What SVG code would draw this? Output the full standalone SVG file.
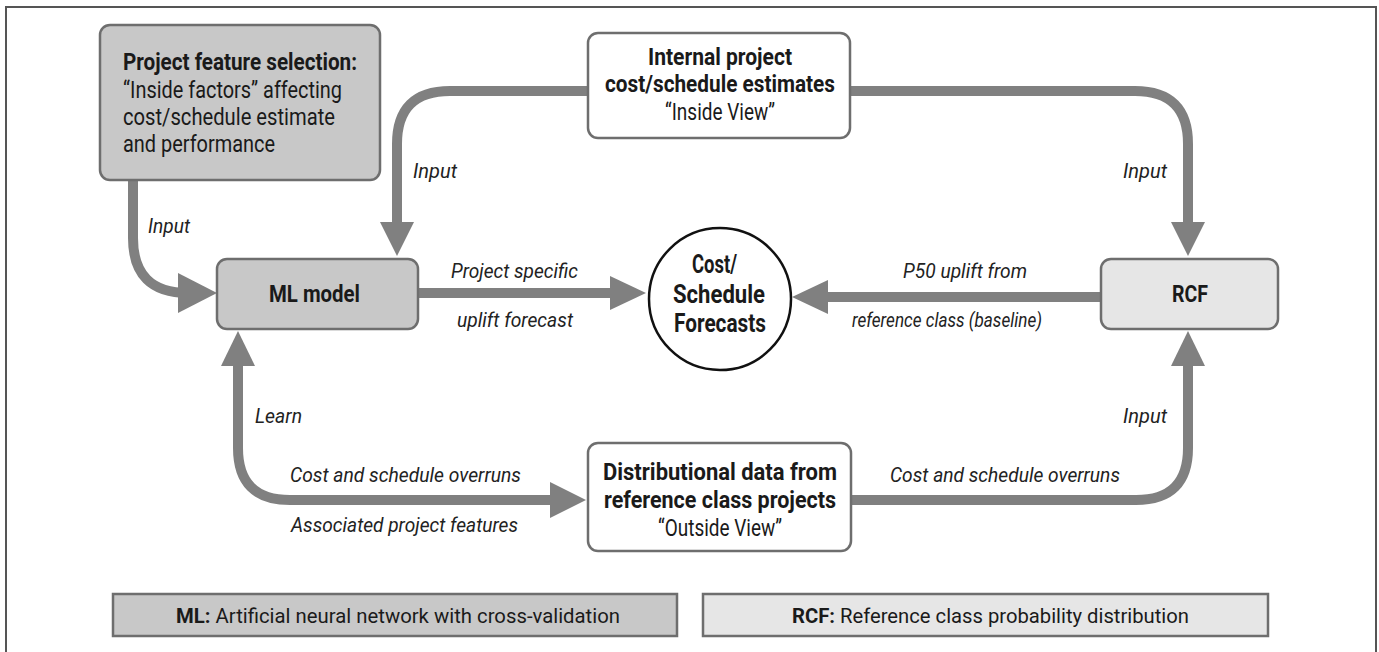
<svg xmlns="http://www.w3.org/2000/svg" width="1379" height="652" viewBox="0 0 1379 652">
<defs>
<style>
text{font-family:"Roboto","Liberation Sans",sans-serif;fill:#1a1a1a}
.b{font-weight:bold}
.lbl{font-style:italic;font-size:21px;fill:#222}
.nt{font-size:24px}
.c{text-anchor:middle}
.e{text-anchor:end}
.box{stroke:#6e6e6e;stroke-width:2.5}
.dark{fill:#c8c8c8}
.light{fill:#e6e6e6}
.white{fill:#ffffff}
.ln{fill:none;stroke:#808080;stroke-width:10}
.ah{fill:#808080}
</style>
</defs>
<rect x="0" y="0" width="1379" height="652" fill="#ffffff"/>
<rect x="6" y="7" width="1370" height="700" fill="none" stroke="#555" stroke-width="2"/>

<g id="connectors">
  <path class="ln" d="M133,181 V238 Q133,293 188,293 H182"/>
  <polygon class="ah" points="178,273 217,293 178,313"/>
  <path class="ln" d="M589,91 H450 Q397,91 397,144 V224"/>
  <polygon class="ah" points="380,222 414,222 397,256"/>
  <path class="ln" d="M850,91 H1135 Q1188,91 1188,144 V224"/>
  <polygon class="ah" points="1171,222 1205,222 1188,256"/>
  <path class="ln" d="M418,293 H612"/>
  <polygon class="ah" points="610,276 646,293 610,310"/>
  <path class="ln" d="M1101,297 H826"/>
  <polygon class="ah" points="828,280 792,297 828,314"/>
  <path class="ln" d="M552,500 H290 Q238,500 238,448 V364"/>
  <polygon class="ah" points="550,482 586,500 550,518"/>
  <polygon class="ah" points="221,366 255,366 238,331"/>
  <path class="ln" d="M851,500 H1136 Q1188,500 1188,448 V366"/>
  <polygon class="ah" points="1171,366 1205,366 1188,331"/>
</g>

<g id="labels">
  <text class="lbl" x="148" y="233" textLength="42" lengthAdjust="spacingAndGlyphs">Input</text>
  <text class="lbl" x="413" y="178" textLength="44" lengthAdjust="spacingAndGlyphs">Input</text>
  <text class="lbl" x="1123" y="178" textLength="44" lengthAdjust="spacingAndGlyphs">Input</text>
  <text class="lbl" x="1123" y="423" textLength="44" lengthAdjust="spacingAndGlyphs">Input</text>
  <text class="lbl" x="451" y="278" textLength="127" lengthAdjust="spacingAndGlyphs">Project specific</text>
  <text class="lbl" x="457" y="327" textLength="116" lengthAdjust="spacingAndGlyphs">uplift forecast</text>
  <text class="lbl" x="903" y="278" textLength="124" lengthAdjust="spacingAndGlyphs">P50 uplift from</text>
  <text class="lbl" x="852" y="327" textLength="190" lengthAdjust="spacingAndGlyphs">reference class (baseline)</text>
  <text class="lbl" x="255" y="423" textLength="47" lengthAdjust="spacingAndGlyphs">Learn</text>
  <text class="lbl" x="290" y="482" textLength="231" lengthAdjust="spacingAndGlyphs">Cost and schedule overruns</text>
  <text class="lbl" x="291" y="532" textLength="227" lengthAdjust="spacingAndGlyphs">Associated project features</text>
  <text class="lbl" x="890" y="482" textLength="230" lengthAdjust="spacingAndGlyphs">Cost and schedule overruns</text>
</g>

<g id="node-pfs">
  <rect class="box dark" x="100" y="25" width="280" height="155" rx="10"/>
  <text class="nt b" x="123" y="70" textLength="234" lengthAdjust="spacingAndGlyphs">Project feature selection:</text>
  <text class="nt" x="123" y="98" textLength="219" lengthAdjust="spacingAndGlyphs">“Inside factors” affecting</text>
  <text class="nt" x="123" y="125" textLength="212" lengthAdjust="spacingAndGlyphs">cost/schedule estimate</text>
  <text class="nt" x="123" y="152" textLength="152" lengthAdjust="spacingAndGlyphs">and performance</text>
</g>

<g id="node-internal">
  <rect class="box white" x="588" y="33" width="262" height="105" rx="10"/>
  <text class="nt b" x="648" y="65" textLength="144" lengthAdjust="spacingAndGlyphs">Internal project</text>
  <text class="nt b" x="605" y="92" textLength="230" lengthAdjust="spacingAndGlyphs">cost/schedule estimates</text>
  <text class="nt" x="665" y="120" textLength="110" lengthAdjust="spacingAndGlyphs">“Inside View”</text>
</g>

<g id="node-ml">
  <rect class="box dark" x="217" y="259" width="201" height="70" rx="10"/>
  <text class="nt b" x="269" y="302" textLength="91" lengthAdjust="spacingAndGlyphs">ML model</text>
</g>

<g id="node-forecast">
  <circle cx="720" cy="299" r="71" fill="#ffffff" stroke="#111" stroke-width="2.5"/>
  <text class="b" style="font-size:25px" x="692" y="273" textLength="45" lengthAdjust="spacingAndGlyphs">Cost/</text>
  <text class="b" style="font-size:25px" x="673" y="303" textLength="92" lengthAdjust="spacingAndGlyphs">Schedule</text>
  <text class="b" style="font-size:25px" x="674" y="332" textLength="92" lengthAdjust="spacingAndGlyphs">Forecasts</text>
</g>

<g id="node-rcf">
  <rect class="box light" x="1101" y="259" width="177" height="70" rx="10"/>
  <text class="nt b" x="1172" y="302" textLength="36" lengthAdjust="spacingAndGlyphs">RCF</text>
</g>

<g id="node-dist">
  <rect class="box white" x="588" y="443" width="263" height="108" rx="10"/>
  <text class="nt b" x="603" y="480" textLength="234" lengthAdjust="spacingAndGlyphs">Distributional data from</text>
  <text class="nt b" x="604" y="508" textLength="232" lengthAdjust="spacingAndGlyphs">reference class projects</text>
  <text class="nt" x="658" y="536" textLength="124" lengthAdjust="spacingAndGlyphs">“Outside View”</text>
</g>

<g id="legend-ml">
  <rect class="box dark" x="113" y="594" width="564" height="42"/>
  <text style="font-size:21px" x="176" y="623" textLength="444" lengthAdjust="spacingAndGlyphs"><tspan class="b">ML:</tspan> Artificial neural network with cross-validation</text>
</g>

<g id="legend-rcf">
  <rect class="box light" x="703" y="594" width="565" height="42"/>
  <text style="font-size:21px" x="792" y="623" textLength="397" lengthAdjust="spacingAndGlyphs"><tspan class="b">RCF:</tspan> Reference class probability distribution</text>
</g>
</svg>
